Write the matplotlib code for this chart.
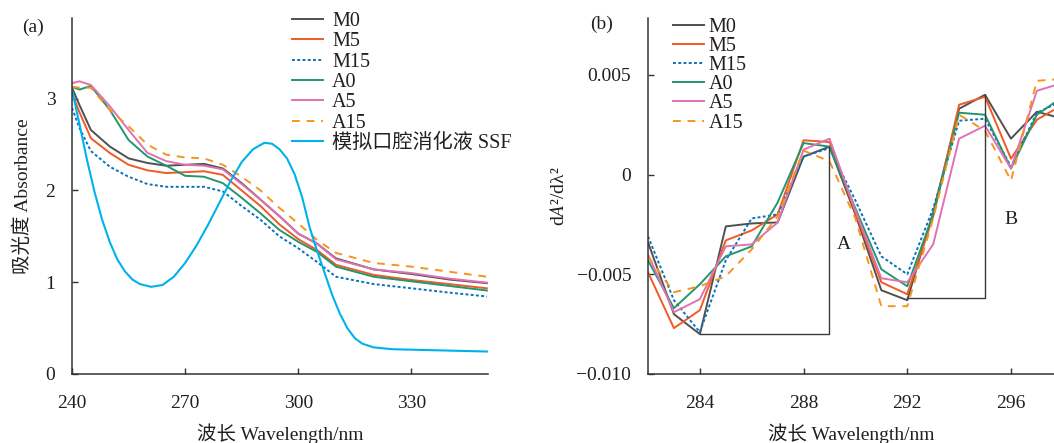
import matplotlib
matplotlib.use('Agg')
import matplotlib.pyplot as plt

plt.rcParams['font.family'] = ['Liberation Serif', 'Noto Sans CJK SC']
plt.rcParams['mathtext.fontset'] = 'stix'
plt.rcParams['axes.unicode_minus'] = True

# ---- panel (a): absorbance spectra ----
wl_a = [240, 242, 245, 250, 255, 260, 265, 270, 275, 280, 285, 290, 295, 300, 305, 310, 320, 330, 340, 350]
abs_m0 = [3.12, 2.93, 2.66, 2.48, 2.35, 2.30, 2.27, 2.28, 2.29, 2.24, 2.08, 1.90, 1.72, 1.53, 1.42, 1.26, 1.14, 1.09, 1.03, 0.99]
abs_m5 = [3.06, 2.85, 2.57, 2.41, 2.28, 2.22, 2.19, 2.20, 2.21, 2.17, 2.00, 1.83, 1.63, 1.47, 1.35, 1.19, 1.08, 1.025, 0.98, 0.934]
abs_m15 = [2.90, 2.68, 2.43, 2.26, 2.15, 2.07, 2.04, 2.04, 2.04, 1.99, 1.83, 1.68, 1.50, 1.37, 1.22, 1.06, 0.98, 0.934, 0.887, 0.845]
abs_a0 = [3.13, 3.10, 3.14, 2.88, 2.55, 2.37, 2.27, 2.16, 2.15, 2.08, 1.92, 1.75, 1.57, 1.44, 1.33, 1.17, 1.06, 1.01, 0.96, 0.91]
abs_a5 = [3.17, 3.19, 3.15, 2.92, 2.66, 2.41, 2.32, 2.28, 2.27, 2.23, 2.07, 1.90, 1.72, 1.53, 1.42, 1.25, 1.14, 1.10, 1.04, 0.996]
abs_a15 = [3.13, 3.12, 3.12, 2.88, 2.70, 2.50, 2.39, 2.36, 2.35, 2.28, 2.15, 2.00, 1.81, 1.64, 1.46, 1.32, 1.21, 1.17, 1.115, 1.06]

wl_ssf = [240, 242, 244, 246, 248, 250, 252, 254, 256, 258, 261, 264, 267, 270, 273, 276, 279, 282, 285, 288,
          291, 293, 295, 297, 299, 301, 303, 305, 307, 309, 311, 313, 315, 317, 320, 325, 335, 350]
abs_ssf = [3.10, 2.72, 2.33, 1.98, 1.68, 1.44, 1.25, 1.12, 1.03, 0.98, 0.95, 0.97, 1.06, 1.21, 1.40, 1.62, 1.86, 2.10, 2.31, 2.45,
           2.52, 2.51, 2.45, 2.35, 2.18, 1.93, 1.60, 1.34, 1.10, 0.86, 0.66, 0.50, 0.39, 0.33, 0.29, 0.27, 0.26, 0.245]

# ---- panel (b): second derivative ----
wl_b = [282, 283, 284, 285, 286, 287, 288, 289, 290, 291, 292, 293, 294, 295, 296, 297, 298]
d2_m0 = [-0.0034, -0.0070, -0.0080, -0.0026, -0.00245, -0.0024, 0.0009, 0.0014, -0.0020, -0.0058, -0.0063, -0.0019, 0.0033, 0.0040, 0.0018, 0.00315, 0.0028]
d2_m5 = [-0.0049, -0.0077, -0.0068, -0.0033, -0.0028, -0.0020, 0.00172, 0.00163, -0.0019, -0.0054, -0.0060, -0.0021, 0.0035, 0.0039, 0.0008, 0.00275, 0.0035]
d2_m15 = [-0.0031, -0.0063, -0.0079, -0.0043, -0.0022, -0.0020, 0.0009, 0.00133, -0.0013, -0.0041, -0.0050, -0.0017, 0.0027, 0.0028, 0.0004, 0.0031, 0.0037]
d2_a0 = [-0.0043, -0.0067, -0.0055, -0.0041, -0.0036, -0.0014, 0.00158, 0.0014, -0.0017, -0.00475, -0.0056, -0.0020, 0.0031, 0.0030, 0.0003, 0.0030, 0.0039]
d2_a5 = [-0.0040, -0.0069, -0.00625, -0.0036, -0.0035, -0.0024, 0.00125, 0.0018, -0.0018, -0.0052, -0.0054, -0.0035, 0.0018, 0.00245, 0.0003, 0.0042, 0.0046]
d2_a15 = [-0.0041, -0.0059, -0.0056, -0.0051, -0.00375, -0.0021, 0.0012, 0.00067, -0.0022, -0.0066, -0.0066, -0.0022, 0.0030, 0.0022, -0.0003, 0.0047, 0.0048]

# brackets marking peaks A and B
bracket_a_x = [284, 289, 289]
bracket_a_y = [-0.0080, -0.0080, 0.0014]
bracket_b_x = [292, 295, 295]
bracket_b_y = [-0.0062, -0.0062, 0.0040]

names = ['M0', 'M5', 'M15', 'A0', 'A5', 'A15']
colors = ['#505050', '#f15a24', '#0a72bc', '#23956f', '#e072b4', '#f7941d']
styles = ['-', '-', (0, (1.5, 1.2)), '-', '-', (0, (4, 3.5))]
ssf_label = '模拟口腔消化液 SSF'
ssf_color = '#00b2ec'

text_color = '#231f20'
fs = 14

fig = plt.figure(figsize=(10.54, 4.43), dpi=100)
ax1 = fig.add_axes([72 / 1054, 1 - 374 / 443, 416 / 1054, 356 / 443])
ax2 = fig.add_axes([648 / 1054, 1 - 374 / 443, 406 / 1054, 356 / 443])

for name, y, c, ls in zip(names, [abs_m0, abs_m5, abs_m15, abs_a0, abs_a5, abs_a15], colors, styles):
    ax1.plot(wl_a, y, color=c, linestyle=ls, lw=1.4, label=name)
ax1.plot(wl_ssf, abs_ssf, color=ssf_color, lw=1.5, label=ssf_label)

for name, y, c, ls in zip(names, [d2_m0, d2_m5, d2_m15, d2_a0, d2_a5, d2_a15], colors, styles):
    ax2.plot(wl_b, y, color=c, linestyle=ls, lw=1.4, label=name)
ax2.plot(bracket_a_x, bracket_a_y, color='#3a3a3a', lw=1.0)
ax2.plot(bracket_b_x, bracket_b_y, color='#3a3a3a', lw=1.0)
ax2.text(289.55, -0.0035, 'A', fontsize=fs, color=text_color, ha='center', va='center')
ax2.text(296.0, -0.00225, 'B', fontsize=fs, color=text_color, ha='center', va='center')

ax1.set_xlim(240, 350.3)
ax1.set_ylim(0, 3.88)
ax1.set_xticks([240, 270, 300, 330])
ax1.set_yticks([0, 1, 2, 3])

ax2.set_xlim(282, 297.66)
ax2.set_ylim(-0.010, 0.00785)
ax2.set_xticks([284, 288, 292, 296])
ax2.set_yticks([0.005, 0, -0.005, -0.010])
ax2.set_yticklabels(['0.005', '0', '\u22120.005', '\u22120.010'])

for ax in (ax1, ax2):
    for s in ('top', 'right'):
        ax.spines[s].set_visible(False)
    for s in ('left', 'bottom'):
        ax.spines[s].set_color('#333333')
        ax.spines[s].set_linewidth(1.1)
    ax.tick_params(direction='in', length=4, width=1.0, color='#333333',
                   labelsize=fs, labelcolor=text_color)
    ax.tick_params(axis='x', pad=15)
    ax.tick_params(axis='y', pad=12)
    ax.set_xlabel('波长 Wavelength/nm', fontsize=fs, color=text_color, labelpad=8)

ax1.set_ylabel('吸光度 Absorbance', fontsize=fs, color=text_color, labelpad=10)
ax2.set_ylabel(r'd$\mathit{A}$²/dλ²', fontsize=fs, color=text_color, labelpad=6)

fig.text(22 / 1054, 1 - 27 / 443, '(a)', fontsize=fs, color=text_color, va='center')
fig.text(590 / 1054, 1 - 24 / 443, '(b)', fontsize=fs, color=text_color, va='center')

leg_kw = dict(frameon=False, fontsize=14.5, handlelength=1.55, borderpad=0, borderaxespad=0, loc='upper left')
leg1 = ax1.legend(bbox_to_anchor=(292 / 1054, 1 - 12 / 443), bbox_transform=fig.transFigure,
                  handletextpad=0.45, labelspacing=0.06, **leg_kw)
leg2 = ax2.legend(bbox_to_anchor=(673 / 1054, 1 - 18 / 443), bbox_transform=fig.transFigure,
                  handletextpad=0.22, labelspacing=0.0, **leg_kw)
for leg in (leg1, leg2):
    for t in leg.get_texts():
        t.set_color(text_color)

fig.savefig('out.png', dpi=100)
